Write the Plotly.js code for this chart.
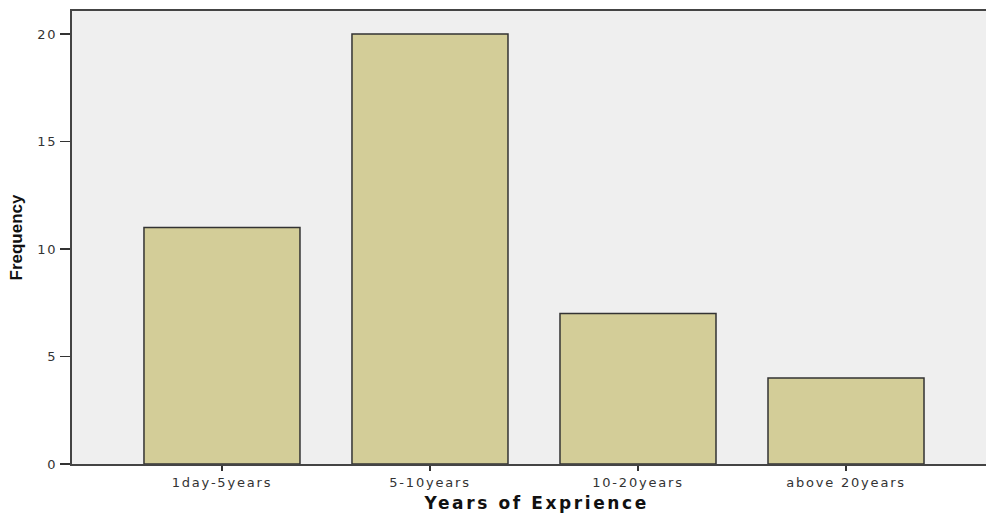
<!DOCTYPE html>
<html>
<head>
<meta charset="utf-8">
<script src="https://cdn.plot.ly/plotly-3.0.1.min.js"></script>
<style>
html,body{margin:0;padding:0;background:#fff;}
#chart{width:986px;height:516px;}
#chart .xtick text, #chart .ytick text{letter-spacing:1.8px;}
#chart .annotation-text{letter-spacing:2.6px;}
</style>
</head>
<body>
<div id="chart"></div>
<script>
const categories = ["1day-5years", "5-10years", "10-20years", "above 20years"];
const frequency = [11, 20, 7, 4];
const yTicks = [0, 5, 10, 15, 20];
const xTitle = "Years of Exprience";
const yTitle = "Frequency";

const trace = {
  type: "bar",
  x: categories,
  y: frequency,
  width: 0.75,
  marker: {color: "#d3cd98", line: {color: "#333333", width: 1.5}},
  hoverinfo: "none"
};

const layout = {
  width: 986, height: 516,
  margin: {l: 72, r: 0, t: 11, b: 52},
  paper_bgcolor: "#ffffff",
  plot_bgcolor: "#efefef",
  showlegend: false,
  xaxis: {
    type: "category",
    range: [-0.721, 3.673],
    showline: true, linecolor: "#444", linewidth: 2, mirror: true,
    ticks: "outside", ticklen: 5, tickwidth: 1.5, tickcolor: "#333",
    showgrid: false, zeroline: false,
    tickfont: {family: "DejaVu Sans, sans-serif", size: 13, color: "#333"}
  },
  yaxis: {
    range: [0, 21.07],
    tickvals: yTicks,
    showline: true, linecolor: "#444", linewidth: 2,
    ticks: "outside", ticklen: 10, tickwidth: 1.5, tickcolor: "#333",
    showgrid: false, zeroline: false,
    tickfont: {family: "DejaVu Sans, sans-serif", size: 13, color: "#333"},
    title: {text: yTitle, standoff: 14, font: {family: "Liberation Sans Narrow, Arial Narrow, sans-serif", size: 17, color: "#111", weight: "bold"}}
  },
  annotations: [{
    text: xTitle, xref: "paper", yref: "paper", x: 0.508, y: -0.086,
    xanchor: "center", yanchor: "middle", showarrow: false,
    font: {family: "DejaVu Sans, sans-serif", size: 17, color: "#111", weight: "bold"}
  }]
};

Plotly.newPlot("chart", [trace], layout, {staticPlot: true, displayModeBar: false});
</script>
</body>
</html>
